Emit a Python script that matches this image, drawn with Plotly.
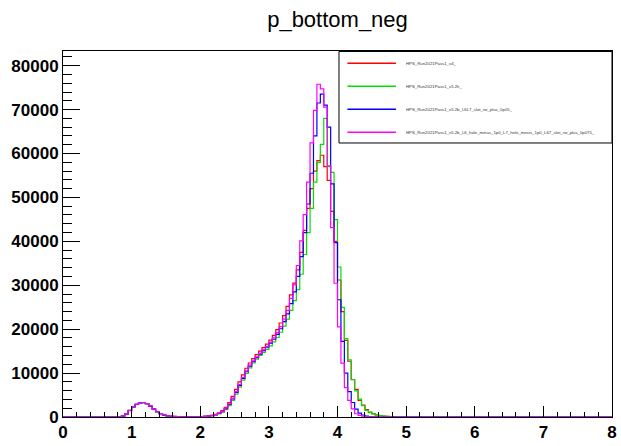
import numpy as np
import plotly.graph_objects as go

# ---------------- data (bin width 0.05, bins from 0.80 to 4.85; all other bins are 0) ----------------
bin_width = 0.05
first_bin_left = 0.80
x_min, x_max = 0.0, 8.0

labels = [
    "HPS_Run2021Pass1_v4_",
    "HPS_Run2021Pass1_v5.2h_",
    "HPS_Run2021Pass1_v5.2b_L6L7_slot_rw_plus_0p05_",
    "HPS_Run2021Pass1_v5.2b_L6_hole_minus_1p0_L7_hole_minus_1p0_L67_slot_rw_plus_0p075_",
]

red_vals = [
    0, 200, 700, 1500, 2300, 2900, 3250, 3300, 3050, 2500, 1800, 1200, 750, 450, 280, 180,
    120, 80, 60, 50, 40, 40, 50, 60, 90, 140, 220, 350,
    600, 950, 1450, 2200, 3300, 4700, 6300, 8000, 9600, 11100, 12300, 13300, 14200, 15000,
    15800, 16600, 17500, 18600, 19900, 21400, 23100, 25200, 27800, 30500,
    33500, 37500, 42500, 47500, 52000, 56000, 58400, 59600, 57000, 53900, 46800, 40000,
    31200, 24000, 17450, 12700, 8500, 6300, 3800, 2700, 1700, 1100, 750, 500, 330, 220,
    130, 70, 30, 0,
]
green_vals = [
    0, 180, 650, 1450, 2250, 2850, 3200, 3250, 3000, 2450, 1780, 1180, 740, 440, 270, 170,
    110, 75, 55, 45, 40, 40, 45, 55, 80, 120, 190, 300,
    450, 700, 1100, 1700, 2600, 3800, 5200, 6800, 8400, 9900, 11200, 12300, 13200, 14000,
    14700, 15400, 16200, 17100, 18100, 19300, 20700, 22300, 24300, 26500,
    29000, 32500, 37000, 42000, 47500, 53500, 58000, 62100, 68000, 57000, 55700, 44950,
    34160, 24960, 17830, 13000, 8540, 5950, 4080, 2600, 1490, 1000, 700, 480, 330, 220,
    140, 80, 30, 0,
]
blue_vals = [
    0, 190, 680, 1480, 2280, 2880, 3230, 3280, 3030, 2480, 1790, 1190, 745, 445, 275, 175,
    115, 78, 58, 48, 40, 40, 48, 58, 85, 130, 200, 320,
    500, 800, 1200, 1900, 2850, 4100, 5600, 7200, 8800, 10300, 11600, 12600, 13500, 14300,
    15100, 15900, 16800, 17700, 18800, 20100, 21700, 23500, 25800, 28500,
    32000, 36500, 42000, 48500, 55500, 64000, 71500, 73500, 71000, 66000, 53100, 39700,
    26700, 17200, 10000, 5800, 3300, 1800, 900, 450, 220, 100, 50, 20, 0, 0,
    0, 0, 0, 0,
]
magenta_vals = [
    0, 200, 700, 1500, 2300, 2900, 3250, 3300, 3050, 2500, 1800, 1200, 750, 450, 280, 180,
    120, 80, 60, 50, 40, 40, 50, 60, 90, 140, 220, 350,
    550, 850, 1300, 2000, 3000, 4300, 5800, 7400, 9000, 10500, 11800, 12800, 13700, 14500,
    15300, 16100, 17000, 18000, 19200, 20600, 22300, 24300, 27000, 30100,
    34500, 40100, 46100, 53500, 62400, 69800, 75770, 74700, 70570, 57200, 43100, 30460,
    20500, 12260, 6700, 3800, 1860, 740, 350, 180, 90, 40, 20, 0, 0, 0,
    0, 0, 0, 0,
]

series = [
    (labels[0], red_vals, "#ff0000"),
    (labels[1], green_vals, "#00e000"),
    (labels[2], blue_vals, "#0000ff"),
    (labels[3], magenta_vals, "#ff00ff"),
]

# ---------------- figure ----------------
n_bins = int(round((x_max - x_min) / bin_width))
edges = np.round(x_min + np.arange(n_bins + 1) * bin_width, 4)
start = int(round((first_bin_left - x_min) / bin_width))

fig = go.Figure()
for name, vals, color in series:
    full = np.zeros(n_bins)
    full[start:start + len(vals)] = vals
    yy = list(full) + [full[-1]]
    fig.add_trace(go.Scatter(
        x=edges, y=yy, mode="lines", line=dict(color=color, width=1.2, shape="hv"),
        name=name, showlegend=False, hoverinfo="skip",
    ))

# plot-area geometry (pixels)
W, H = 621, 446
L, R, T, B = 63, 617, 51, 425

def px_to_paper(px, py):
    return (px - L) / (R - L), (B - py) / (B - T)

# manual ROOT-style legend
shapes = []
annotations = []
x0, y0 = px_to_paper(341.5, 145)
x1, y1 = px_to_paper(617, 51.5)
shapes.append(dict(type="rect", xref="paper", yref="paper", x0=x0, y0=y0, x1=x1, y1=y1,
                   line=dict(color="black", width=1), fillcolor="white", layer="above"))
entry_y = [63.5, 87, 110.5, 134]
for (name, vals, color), ey in zip(series, entry_y):
    lx0, ly = px_to_paper(350, ey)
    lx1, _ = px_to_paper(399, ey)
    shapes.append(dict(type="line", xref="paper", yref="paper", x0=lx0, x1=lx1, y0=ly, y1=ly,
                       line=dict(color=color, width=1.5), layer="above"))
    tx, _ = px_to_paper(407, ey)
    annotations.append(dict(xref="paper", yref="paper", x=tx, y=ly, text=name, showarrow=False,
                            xanchor="left", yanchor="middle",
                            font=dict(family="Liberation Sans", size=4.3, color="#333333")))

tick_font = dict(family="Liberation Sans", size=17, color="black", weight="bold")

fig.update_layout(
    width=W, height=H,
    margin=dict(l=L, r=W - R, t=T, b=H - B, pad=0),
    paper_bgcolor="white", plot_bgcolor="white",
    title=dict(text="p_bottom_neg", x=0.5, xref="paper", y=1 - 19 / H, yref="container",
               xanchor="center", yanchor="middle",
               font=dict(family="Liberation Sans", size=22, color="black")),
    xaxis=dict(range=[x_min, x_max], tickmode="linear", tick0=0, dtick=1,
               ticks="inside", ticklen=11, tickwidth=1, tickcolor="black",
               minor=dict(ticks="inside", dtick=0.2, ticklen=5, tickcolor="black", tickwidth=1),
               showgrid=False, zeroline=False, showline=True, mirror=True,
               linecolor="black", linewidth=1, tickfont=tick_font),
    yaxis=dict(range=[0, 83340], tickmode="linear", tick0=0, dtick=10000,
               ticks="inside", ticklen=17, tickwidth=1, tickcolor="black",
               minor=dict(ticks="inside", dtick=2000, ticklen=9, tickcolor="black", tickwidth=1),
               showgrid=False, zeroline=False, showline=True, mirror=True,
               linecolor="black", linewidth=1, tickfont=tick_font, tickformat="d"),
    shapes=shapes,
    annotations=annotations,
)

fig.write_html("out.html")
